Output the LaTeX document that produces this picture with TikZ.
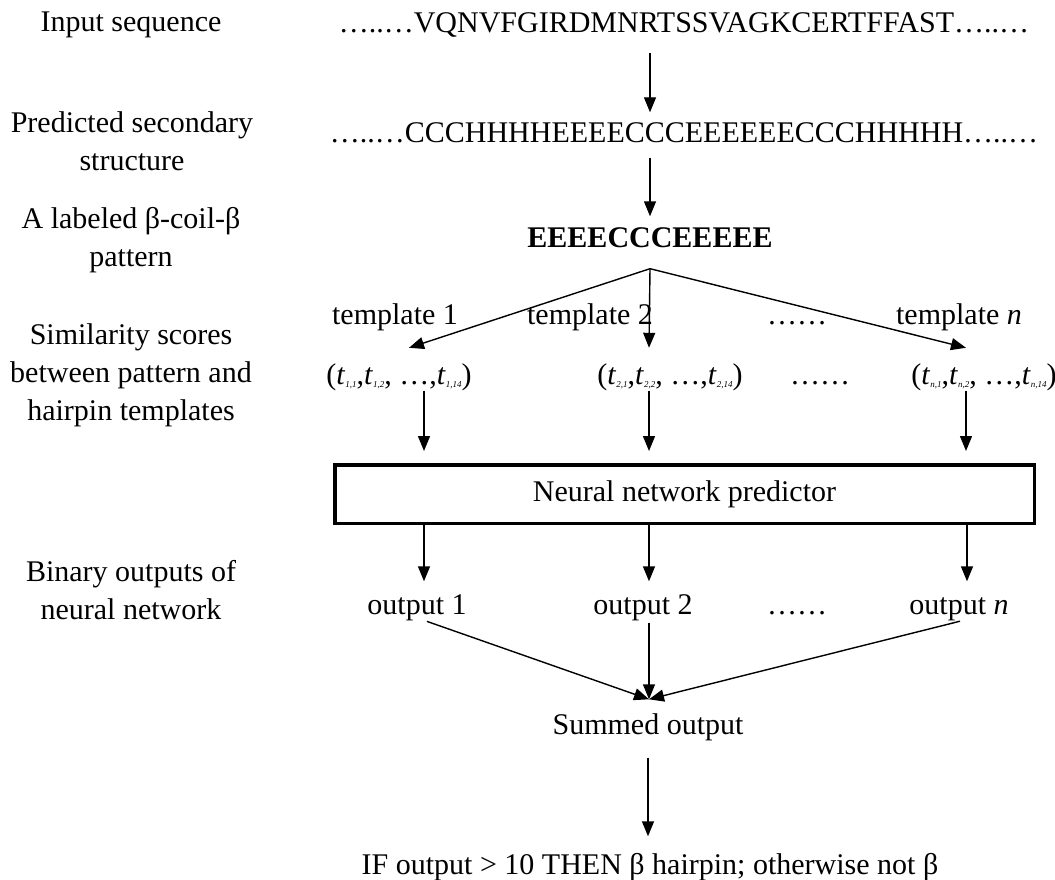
\documentclass[tikz,border=0pt]{standalone}
\usepackage{fontspec}
\setmainfont{Liberation Serif}
\usetikzlibrary{arrows.meta}
\newcommand{\tsub}[1]{\textit{t}\raisebox{-3pt}{\fontsize{9}{9}\selectfont\textit{#1}}}
\begin{document}
\begin{tikzpicture}[x=1pt,y=-1pt,
  every node/.style={font=\fontsize{30}{38}\selectfont},
  txt/.style={inner sep=0pt,text height=21pt,text depth=6pt},
  lbl/.style={align=center,inner sep=0pt},
  arr/.style={line width=1.4pt,-{Triangle[width=12pt,length=15pt]}}]
\useasboundingbox (0,0) rectangle (1055,880);

\node[lbl] (lin) at (131,25) {Input sequence};
\node[lbl] (lpred) at (132,141) {Predicted secondary\\structure};
\node[lbl] (lpat) at (131,240) {A labeled β-coil-β\\pattern};
\node[lbl] (lsim) at (131,375) {Similarity scores\\between pattern and\\hairpin templates};
\node[lbl] (lbin) at (131,590) {Binary outputs of\\neural network};

\node[txt] (seq) at (684,25) {…..…VQNVFGIRDMNRTSSVAGKCERTFFAST…..…};
\node[txt] (sec) at (684,135) {…..…CCCHHHHEEEECCCEEEEEECCCHHHHH…..…};
\node[txt] (pat) at (650,240) {\textbf{EEEECCCEEEEE}};

\node[txt] (t1) at (395,317) {template 1};
\node[txt] (t2) at (590,317) {template 2};
\node[txt] (tdots) at (797,317) {……};
\node[txt] (tn) at (959,317) {template \textit{n}};

\node[txt] (tup1) at (399,377) {(\tsub{1,1},\tsub{1,2}, …,\tsub{1,14})};
\node[txt] (tup2) at (670,377) {(\tsub{2,1},\tsub{2,2}, …,\tsub{2,14})};
\node[txt] (udots) at (820,377) {……};
\node[txt] (tupn) at (984,377) {(\tsub{n,1},\tsub{n,2}, …,\tsub{n,14})};

\node[draw,line width=3.5pt,minimum width=699.5pt,minimum height=58.5pt,inner sep=0pt] (nn) at (684.5,494) {Neural network predictor};

\node[txt] (o1) at (417,607) {output 1};
\node[txt] (o2) at (643,607) {output 2};
\node[txt] (odots) at (797,607) {……};
\node[txt] (on) at (959,607) {output \textit{n}};

\node[txt] (sum) at (648,727) {Summed output};
\node[txt] (res) at (650,867) {IF output > 10 THEN β hairpin; otherwise not β};

\coordinate (fan) at ([yshift=-15pt]pat.south);
\coordinate (join) at ([xshift=1pt,yshift=14pt]sum.north);

\draw[arr,shorten <=14pt,shorten >=9pt] (seq.south -| pat.north) -- (sec.north -| pat.north);
\draw[arr,shorten <=9pt,shorten >=10pt] (sec.south -| pat.north) -- (pat.north);

\draw[arr] (fan) -- ([xshift=10pt,yshift=15.5pt]tup1.north);
\draw[arr] (fan) -- ([xshift=-21pt,yshift=15.5pt]tup2.north);
\draw[arr] (fan) -- ([xshift=-18pt,yshift=15.5pt]tupn.north);

\draw[arr,shorten >=12pt] ([xshift=25pt]tup1.south) -- ([xshift=25pt]tup1.south |- nn.north);
\draw[arr,shorten >=12pt] ([xshift=-21pt]tup2.south) -- ([xshift=-21pt]tup2.south |- nn.north);
\draw[arr,shorten >=12pt] ([xshift=-18pt]tupn.south) -- ([xshift=-18pt]tupn.south |- nn.north);

\draw[arr,shorten >=12pt] ([xshift=7pt]o1.north |- nn.south) -- ([xshift=7pt]o1.north);
\draw[arr,shorten >=12pt] ([xshift=6pt]o2.north |- nn.south) -- ([xshift=6pt]o2.north);
\draw[arr,shorten >=12pt] ([xshift=8pt]on.north |- nn.south) -- ([xshift=8pt]on.north);

\draw[arr,shorten <=2pt] ([xshift=8pt]o1.south) -- (join);
\draw[arr,shorten <=2pt] ([xshift=6pt]o2.south) -- (join);
\draw[arr,shorten <=2pt] ([xshift=3pt]on.south) -- (join);

\draw[arr,shorten <=17pt,shorten >=17pt] (sum.south) -- (sum.south |- res.north);
\end{tikzpicture}
\end{document}
